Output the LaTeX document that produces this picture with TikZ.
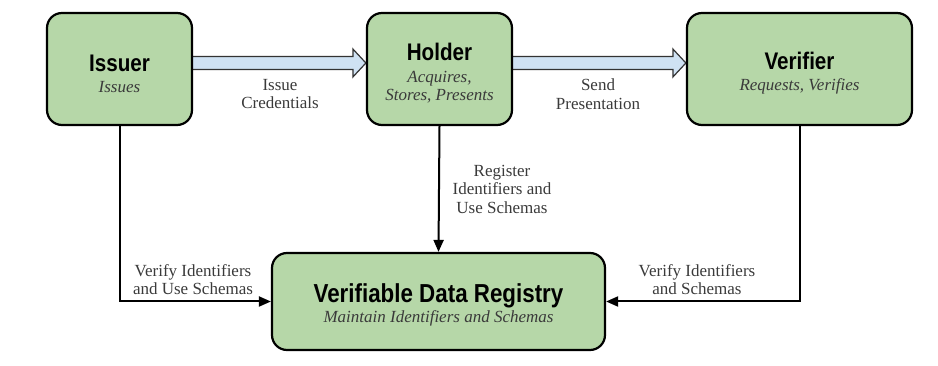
\documentclass[tikz,border=0pt]{standalone}
\usepackage{fontspec}
\setmainfont{Liberation Serif}
\newfontfamily\titlefont[FakeStretch=0.86]{Liberation Sans}
\usetikzlibrary{arrows.meta,calc,backgrounds}
\definecolor{boxgreen}{HTML}{B6D7A8}
\definecolor{arrowblue}{HTML}{CFE2F3}
\definecolor{labelgray}{HTML}{3A3A3A}
\tikzset{
  rolebox/.style={draw=black, line width=2.2pt, fill=boxgreen, rounded corners=15pt,
    align=center, inner sep=0pt, font=\fontsize{17}{18.5}\selectfont},
  conn/.style={draw=black, line width=2pt},
  connarrow/.style={conn, -{Triangle[length=12pt,width=10pt]}},
  lbl/.style={text=labelgray, align=center, font=\fontsize{17}{18.5}\selectfont},
  fatarrow/.style={fill=arrowblue, draw=black!80, line width=1.2pt, line join=miter}
}
\newcommand{\rtitle}[2][24]{{\titlefont\bfseries\fontsize{#1}{28}\selectfont\rule{0pt}{26pt}#2}}
\newcommand{\rsub}[1]{{\color{labelgray}\itshape #1}}
\begin{document}
\begin{tikzpicture}[x=1pt,y=-1pt]
\useasboundingbox (0,0) rectangle (938,366);
\node[rolebox, minimum width=145pt, minimum height=112pt] (issuer) at (119.5,69)
  {\rtitle{Issuer}\\[2.5pt]\rsub{Issues}};
\node[rolebox, minimum width=145pt, minimum height=112pt] (holder) at (439.5,69)
  {\rtitle{Holder}\\[3pt]\rsub{Acquires,}\\\rsub{Stores, Presents}};
\node[rolebox, minimum width=225pt, minimum height=112pt] (verifier) at (799.5,69)
  {\rtitle{Verifier}\\[2.5pt]\rsub{Requests, Verifies}};
\node[rolebox, minimum width=333pt, minimum height=97pt] (vdr) at (438.5,301.5)
  {\rtitle[26]{Verifiable Data Registry}\\[2pt]\rsub{Maintain Identifiers and Schemas}};
\begin{pgfonlayer}{background}
  \coordinate (a1) at ($(issuer.east)+(-3,-6)$);
  \coordinate (b1) at ($(holder.west)+(0,-6)$);
  \draw[fatarrow] ($(a1)+(0,-6.5)$) -- ($(b1)+(-13,-6.5)$) -- ($(b1)+(-13,-14)$) -- (b1)
    -- ($(b1)+(-13,14)$) -- ($(b1)+(-13,6.5)$) -- ($(a1)+(0,6.5)$) -- cycle;
  \coordinate (a2) at ($(holder.east)+(-3,-6)$);
  \coordinate (b2) at ($(verifier.west)+(0,-6)$);
  \draw[fatarrow] ($(a2)+(0,-6.5)$) -- ($(b2)+(-13,-6.5)$) -- ($(b2)+(-13,-14)$) -- (b2)
    -- ($(b2)+(-13,14)$) -- ($(b2)+(-13,6.5)$) -- ($(a2)+(0,6.5)$) -- cycle;
\end{pgfonlayer}
\node[lbl] (lissue) at (280,94) {Issue\\Credentials};
\node[lbl] (lsend) at (598,94) {Send\\Presentation};
\draw[connarrow] (issuer.south) |- (vdr.west);
\draw[connarrow] (verifier.south) |- (vdr.east);
\draw[connarrow] (holder.south) -- (vdr.north);
\node[lbl] (lreg) at (502,189) {Register\\Identifiers and\\Use Schemas};
\node[lbl] (lleft) at (193,279.5) {Verify Identifiers\\and Use Schemas};
\node[lbl] (lright) at (697,279.5) {Verify Identifiers\\and Schemas};
\end{tikzpicture}
\end{document}
